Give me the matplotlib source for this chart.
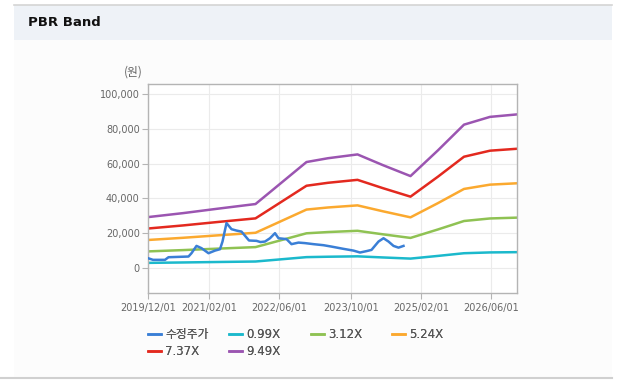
import numpy as np
import matplotlib.pyplot as plt
from matplotlib.patches import Rectangle
from matplotlib.lines import Line2D
from matplotlib.ticker import FuncFormatter

# x axis: position in months-ish from the first date (chart is categorical-looking)
tick_pos = [0, 12.2, 26.2, 40.6, 54.6, 68.6]
tick_labels = ["2019/12/01", "2021/02/01", "2022/06/01", "2023/10/01", "2025/02/01", "2026/06/01"]

# book value per share (9.49X line / 9.49)
bps_x = [0, 7, 14, 21.5, 24.4, 31.7, 36, 41.9, 47, 52.5, 58, 63.2, 68.4, 73.8]
bps = [3090, 3330, 3600, 3880, 4600, 6420, 6650, 6880, 6230, 5570, 7130, 8680, 9150, 9300]
multiples = [0.99, 3.12, 5.24, 7.37, 9.49]
band_names = ["0.99X", "3.12X", "5.24X", "7.37X", "9.49X"]
band_colors = ["#1bb9cc", "#8fc253", "#fba92f", "#e3291f", "#9b55b1"]

# adjusted share price
price_x = [0, 1, 3.4, 4.1, 8.1, 8.7, 9.7, 10.7, 12.1, 13.4, 14.4, 14.9, 15.7, 16.7, 17.7, 18.7,
           20.2, 21.7, 22.5, 23.4, 24.4, 25.4, 26.1, 27.7, 28.7, 30.1, 31.4, 33.1, 35.1, 36.7,
           39.1, 41.1, 42.4, 43.7, 44.7, 46.1, 47.1, 48.1, 49.1, 50.1, 51.1]
price = [5750, 4800, 4800, 6300, 6700, 8600, 12800, 11500, 8600, 10100, 10900, 15300, 25900, 22400,
         21600, 21000, 15900, 15700, 15000, 15300, 17200, 20100, 17200, 16700, 13800, 14700, 14400,
         13800, 13200, 12400, 11100, 10100, 9000, 9800, 10500, 15300, 17200, 15300, 12800, 11800, 12800]
price_name = "수정주가"
price_color = "#3a7fd6"

fonts = ["DejaVu Sans", "Noto Sans CJK KR"]
plt.rcParams['font.family'] = fonts

fig = plt.figure(figsize=(6.2, 3.85), dpi=100)
fig.patch.set_facecolor("white")

# page decoration: header band, light body, border lines
W, H = 620.0, 385.0
fig.patches.append(Rectangle((14 / W, 1 - 378 / H), 598 / W, 338 / H, transform=fig.transFigure,
                             facecolor="#fcfcfc", edgecolor="none", zorder=-3))
fig.patches.append(Rectangle((14 / W, 1 - 40 / H), 598 / W, 35 / H, transform=fig.transFigure,
                             facecolor="#eef2f7", edgecolor="none", zorder=-2))
fig.lines.append(Line2D([14 / W, 612 / W], [1 - 4.5 / H] * 2, transform=fig.transFigure,
                        color="#d4d4d4", lw=1.2))
fig.lines.append(Line2D([0, 612 / W], [1 - 378 / H] * 2, transform=fig.transFigure,
                        color="#d0d0d0", lw=1.5))
fig.text(28 / W, 1 - 22 / H, "PBR Band", fontsize=9.5, fontweight="bold", color="#111111",
         va="center", ha="left")

ax = fig.add_axes([148 / W, 1 - 293.3 / H, 369 / W, 209.3 / H])
ax.set_facecolor("white")

bps_arr = np.array(bps)
band_lines = []
for m, name, c in zip(multiples, band_names, band_colors):
    l, = ax.plot(bps_x, bps_arr * m, color=c, lw=1.8, label=name)
    band_lines.append(l)
pl, = ax.plot(price_x, price, color=price_color, lw=1.8, label=price_name, zorder=5)

ax.set_xlim(0, 73.8)
ax.set_ylim(-14400, 105700)
ax.set_yticks(range(0, 100001, 20000))
ax.yaxis.set_major_formatter(FuncFormatter(lambda v, p: f"{int(v):,}"))
ax.set_xticks(tick_pos)
ax.set_xticklabels(tick_labels)
ax.grid(True, color="#ebebeb", lw=0.8)
ax.set_axisbelow(True)
for s in ax.spines.values():
    s.set_color("#b4b4b4")
    s.set_linewidth(1.0)
ax.tick_params(axis="both", colors="#b4b4b4", labelcolor="#666666", labelsize=7, length=4, width=0.8)
ax.tick_params(axis="y", pad=2)
ax.tick_params(axis="x", pad=3)

fig.text(133 / W, 1 - 72 / H, "(원)", fontsize=8.5, color="#666666", ha="center", va="center",
         family=["Noto Sans CJK KR", "DejaVu Sans"])

# legend in fixed columns like the reference
cols = [(148, [pl, band_lines[3]]), (229, [band_lines[0], band_lines[4]]),
        (311, [band_lines[1]]), (392, [band_lines[2]])]
for x0, hs in cols:
    lg = fig.legend(handles=hs, labels=[h.get_label() for h in hs], loc="upper left",
                    bbox_to_anchor=(x0 / W, 1 - 328 / H), frameon=False, fontsize=8.5,
                    handlelength=1.1, handletextpad=0.35, labelspacing=0.35,
                    borderpad=0, borderaxespad=0, labelcolor="#555555")
    fig.add_artist(lg)

fig.savefig("out.png", dpi=100)
